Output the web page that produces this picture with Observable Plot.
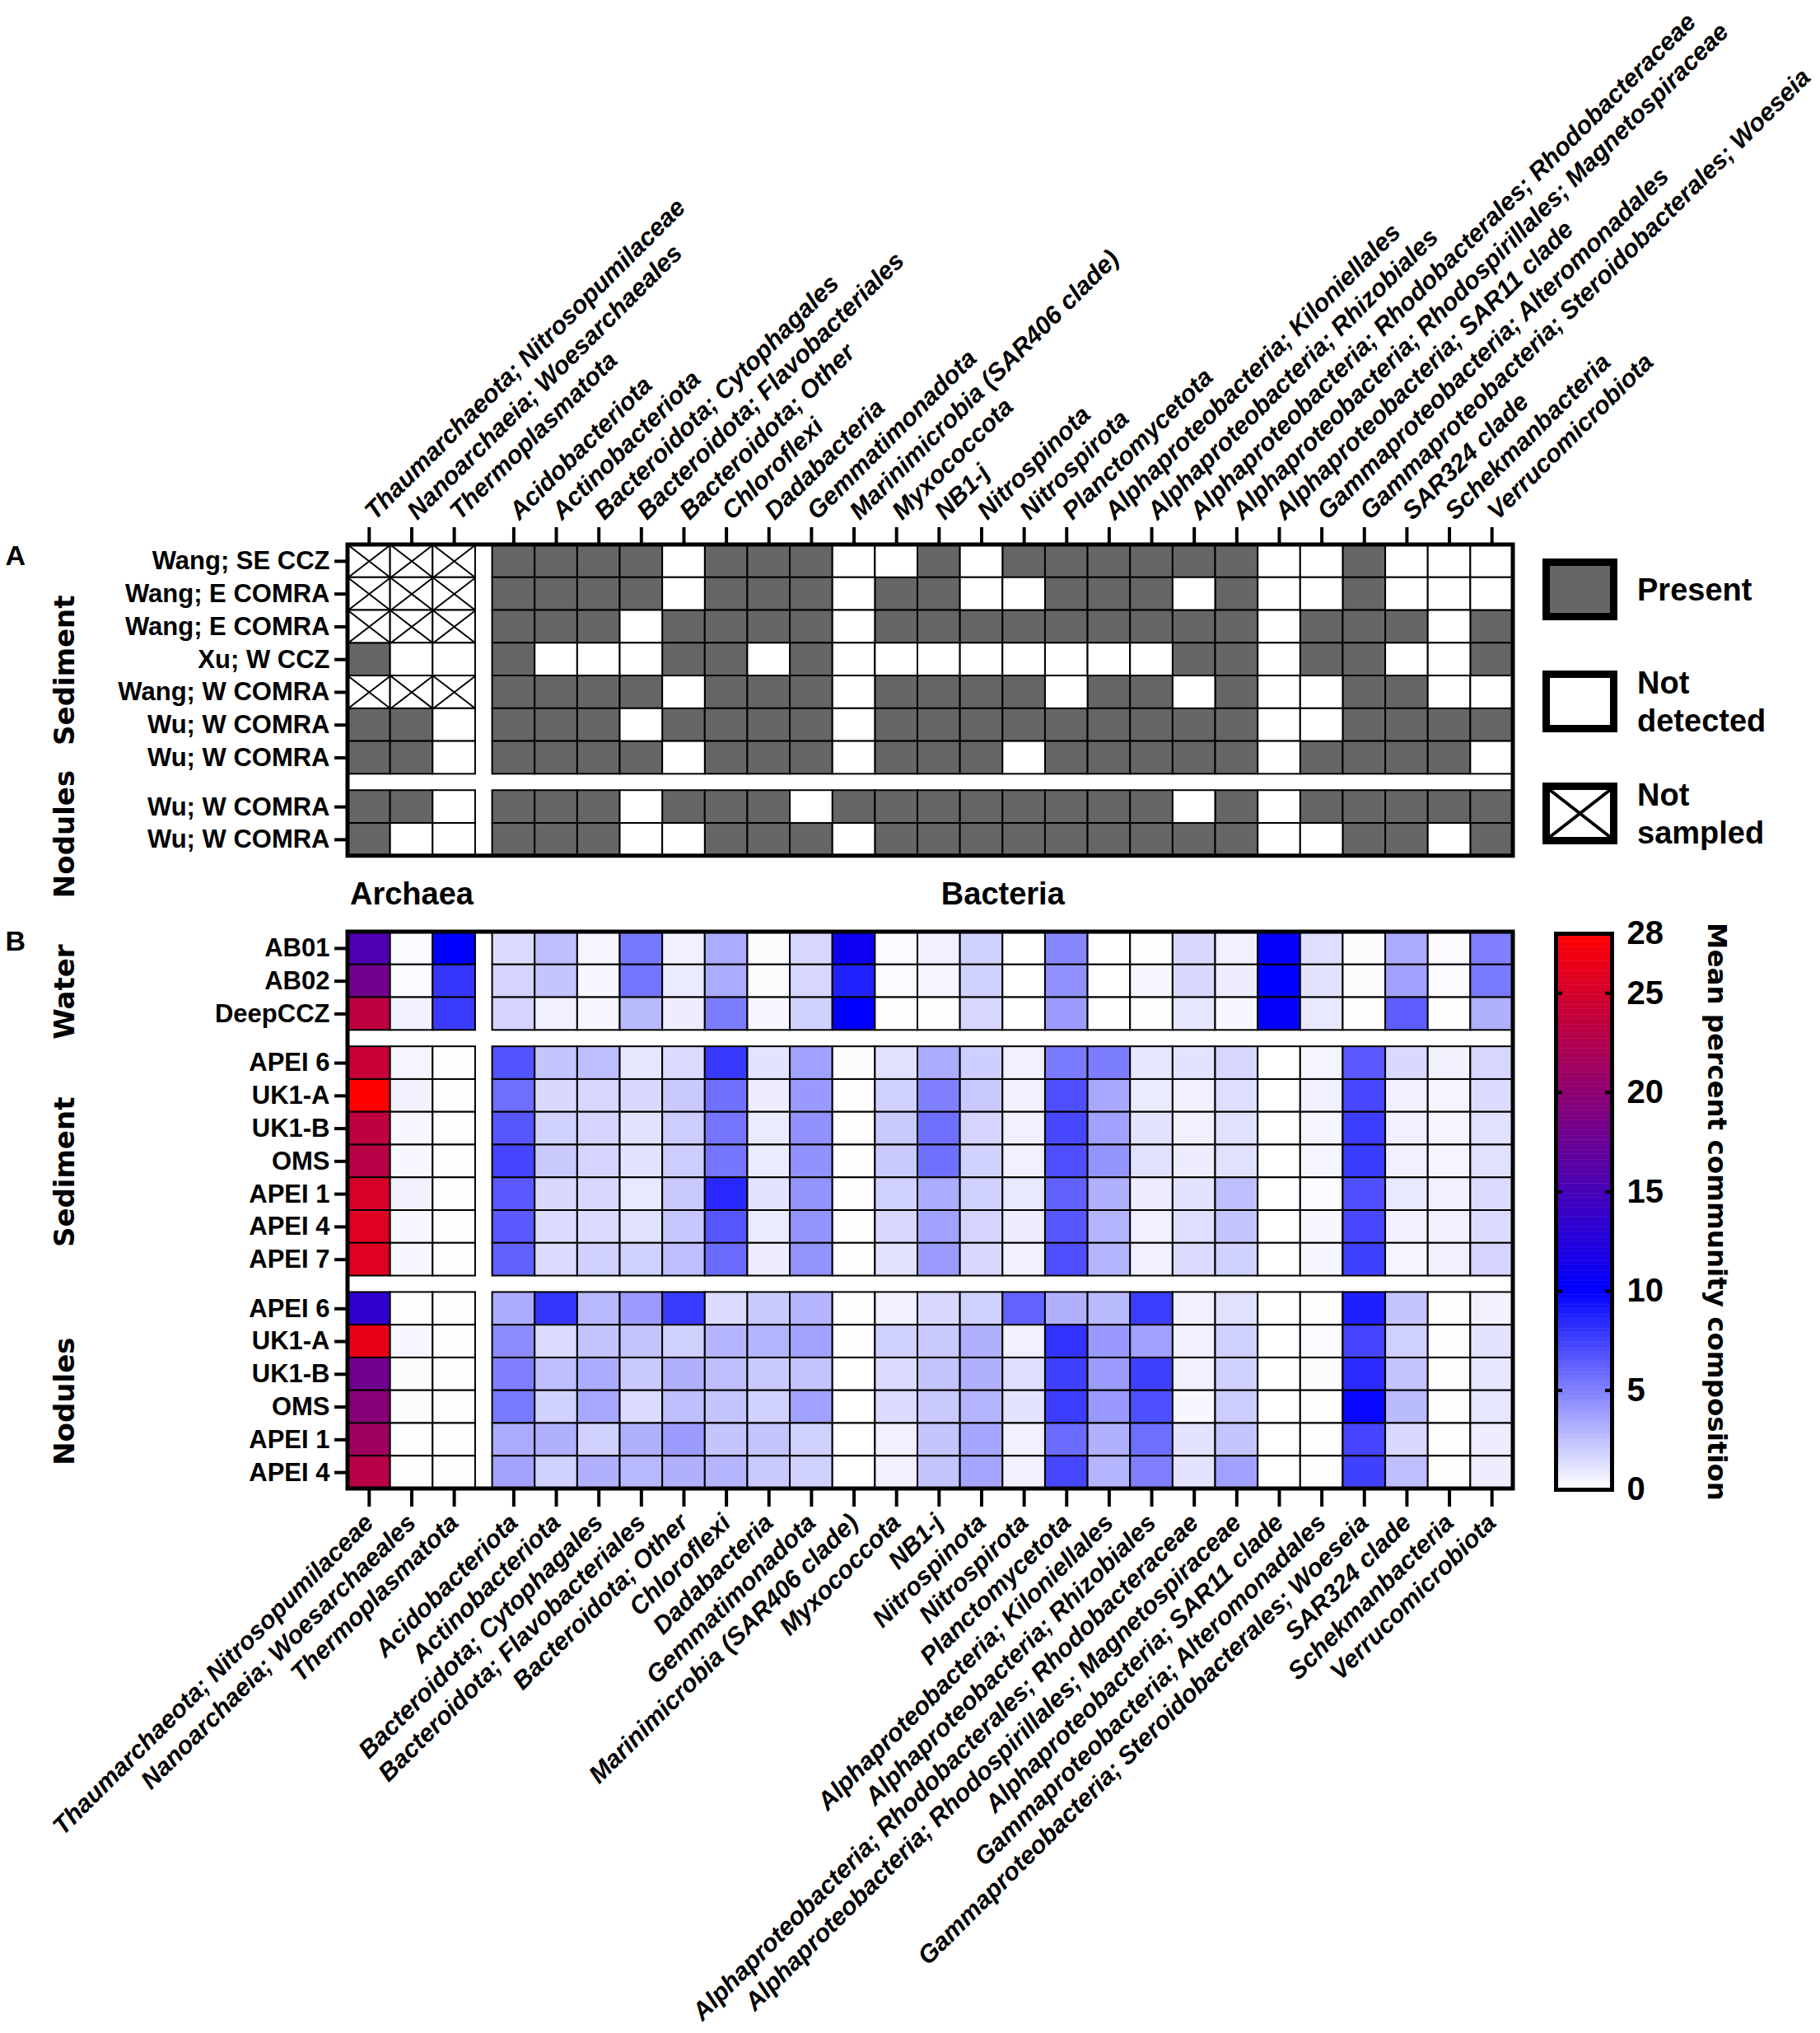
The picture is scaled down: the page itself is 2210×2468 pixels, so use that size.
<!DOCTYPE html>
<html>
<head>
<meta charset="utf-8">
<script src="https://cdn.jsdelivr.net/npm/d3@7"></script>
<script src="https://cdn.jsdelivr.net/npm/@observablehq/plot@0.6"></script>
<style>
html, body { margin: 0; padding: 0; background: #fff; overflow: hidden; }
#page { position: relative; width: 2210px; height: 2468px; background: #fff; }
#page > * { position: absolute; }
</style>
</head>
<body>
<div id="page"></div>
<script>
// ---------------- DATA ----------------
const taxa = [
  "Thaumarchaeota; Nitrosopumilaceae",
  "Nanoarchaeia; Woesarchaeales",
  "Thermoplasmatota",
  "Acidobacteriota",
  "Actinobacteriota",
  "Bacteroidota; Cytophagales",
  "Bacteroidota; Flavobacteriales",
  "Bacteroidota; Other",
  "Chloroflexi",
  "Dadabacteria",
  "Gemmatimonadota",
  "Marinimicrobia (SAR406 clade)",
  "Myxococcota",
  "NB1-j",
  "Nitrospinota",
  "Nitrospirota",
  "Planctomycetota",
  "Alphaproteobacteria; Kiloniellales",
  "Alphaproteobacteria; Rhizobiales",
  "Alphaproteobacteria; Rhodobacterales; Rhodobacteraceae",
  "Alphaproteobacteria; Rhodospirillales; Magnetospiraceae",
  "Alphaproteobacteria; SAR11 clade",
  "Gammaproteobacteria; Alteromonadales",
  "Gammaproteobacteria; Steroidobacterales; Woeseia",
  "SAR324 clade",
  "Schekmanbacteria",
  "Verrucomicrobiota"
];
const domains = [{label: "Archaea", first: 0, last: 2}, {label: "Bacteria", first: 3, last: 26}];

// Panel A: P = present, N = not detected, X = not sampled
const rowsA = ["Wang; SE CCZ", "Wang; E COMRA", "Wang; E COMRA", "Xu; W CCZ", "Wang; W COMRA",
               "Wu; W COMRA", "Wu; W COMRA", "Wu; W COMRA", "Wu; W COMRA"];
const groupA = ["Sediment", "Sediment", "Sediment", "Sediment", "Sediment", "Sediment", "Sediment",
                "Nodules", "Nodules"];
const presenceA = [
  "XXX" + "PPPPNPPPNNPNPPPPPPNNPNNN",
  "XXX" + "PPPPNPPPNPPNNPPPNPNNPNNN",
  "XXX" + "PPPNPPPPNPPPPPPPPPNPPPNP",
  "PNN" + "PNNNPPNPNNNNNNNNPPNPPNNP",
  "XXX" + "PPPPNPPPNPPPPNPPNPNNPPNN",
  "PPN" + "PPPNPPPPNPPPPPPPPPNNPPPP",
  "PPN" + "PPPPNPPPNPPPNPPPPPNPPPPN",
  "PPN" + "PPPNPPPNPPPPPPPPNPNPPPPP",
  "PNN" + "PPPNNPPPNPPPPPPPPPNNPPNP"
];
const legendA = [
  {code: "P", lines: ["Present"]},
  {code: "N", lines: ["Not", "detected"]},
  {code: "X", lines: ["Not", "sampled"]}
];

// Panel B: mean percent community composition
const rowsB = ["AB01", "AB02", "DeepCCZ",
               "APEI 6", "UK1-A", "UK1-B", "OMS", "APEI 1", "APEI 4", "APEI 7",
               "APEI 6", "UK1-A", "UK1-B", "OMS", "APEI 1", "APEI 4"];
const groupB = ["Water", "Water", "Water",
                "Sediment", "Sediment", "Sediment", "Sediment", "Sediment", "Sediment", "Sediment",
                "Nodules", "Nodules", "Nodules", "Nodules", "Nodules", "Nodules"];
const valuesB = [
  [15.5,0.2,10,   1.4,2.5,0.4,5.3,0.6,3.3,0.1,1.6,11,0.2,0.6,1.8,0,4.7,0,0.05,1.5,0.6,10.5,1.3,0.1,3.3,0.2,5],
  [18,0.2,7.9,    1.7,2.3,0.3,5.4,0.8,3.3,0.1,1.6,8.7,0.2,0.4,1.8,0,4.3,0,0.3,1.5,0.7,10,1.1,0.1,3.7,0.2,5.2],
  [23.5,0.6,7.7,  1.7,0.6,0.35,2.7,0.7,5.1,0.3,1.8,10,0.05,0.05,1.6,0,3.9,0,0.05,1,0.3,10.5,0.9,0.05,6.3,0.05,3.1],
  [24.1,0.4,0.05, 6.7,2.3,2.5,1,1.4,7.8,1.1,3.7,0.1,1.2,3.3,1.9,0.6,5.2,5.1,1,1.1,1.6,0,0.4,6.5,1.5,0.5,1.6],
  [28,0.5,0.05,   5.7,1.5,1.6,1.5,2.1,5.6,0.7,4,0.05,1.8,5,2.1,0.6,6.9,3.4,0.8,0.6,1.3,0,0.6,7.2,0.6,0.4,1.4],
  [23.5,0.3,0.05, 6.6,1.8,1.7,1.1,2,5.4,0.8,4.3,0.05,2.1,5.6,1.7,0.6,7.2,3.7,1.1,0.6,1.2,0,0.4,7.6,0.6,0.4,1.2],
  [23,0.3,0.05,   7.3,2.1,1.7,1.1,2,5.4,0.8,4.3,0.05,2.1,5.6,1.8,0.6,6.9,4.2,1.2,0.7,1.2,0,0.4,7.7,0.6,0.4,1.2],
  [25.2,0.5,0.05, 6.5,1.5,1.5,0.9,2.1,8.4,1.1,4.2,0.05,1.8,3.3,1.8,0.9,6.2,3.1,0.7,1.1,2.5,0,0.2,6.9,0.9,0.6,1.4],
  [25.8,0.3,0.05, 6.5,1.4,1.4,1.2,2.2,6.6,0.8,4.2,0.05,1.5,3.7,1.7,0.7,6.6,2.9,0.6,1.3,2.3,0,0.3,7.2,0.6,0.6,1.4],
  [25.8,0.3,0.05, 6.2,1.4,1.8,1.8,2.6,5.8,0.7,4.2,0.05,1.1,3.9,1.5,0.6,6.9,2.9,0.6,1.4,1.8,0,0.3,7.5,0.4,0.6,1.7],
  [13.4,0.05,0.05,3.3,7.9,2.8,3.9,7.7,1.4,2.1,2.9,0.05,0.6,1.5,1.8,6.1,3.1,2.7,7.6,0.6,1.2,0,0.05,8.8,2.3,0.05,0.5],
  [26.4,0.3,0.05, 4.5,1.4,2.3,2.3,1.8,2.9,2.9,3.6,0.05,1.8,2.1,3.1,0.6,8,4,3.7,0.6,1.8,0,0.2,7.3,1.8,0.05,1.1],
  [17.9,0.1,0.05, 5,2.5,3.3,2.1,3.1,2.5,2.1,2.3,0,1.4,2.3,3.1,1.3,7.5,3.9,7.5,0.6,1.8,0,0.1,8.3,2.3,0.05,1],
  [19.6,0.1,0.05, 5.2,1.8,3.4,1.4,2.5,2.3,1.8,3.7,0,1.4,2.1,2.9,1.1,7.6,4,6.9,0.3,2,0,0.05,9.7,2.7,0.05,1],
  [21.3,0.05,0.05,3.3,3.1,1.8,3.1,3.9,2.3,2.3,1.8,0,0.6,2.3,3.5,0.6,5.8,3.1,5.7,1.1,2.3,0,0.05,7.3,1.5,0.05,0.7],
  [23,0.05,0.05,  3.6,1.8,3.1,2.8,3.1,2.9,2.1,1.8,0,0.6,2.3,3.5,0.6,7.2,2.9,5,1.1,3.7,0,0.05,7.5,2.5,0.05,0.7]
];
const colorTicks = [0, 5, 10, 15, 20, 25, 28];
const colorInnerTicks = [5, 10, 15, 20, 25];
const colorTitle = "Mean percent community composition";
const panelTags = ["A", "B"];

// ---------------- LAYOUT (in cell units) ----------------
const SANS = "'Liberation Sans', Arial, Helvetica, sans-serif";
const WIDE = "'DejaVu Sans', Verdana, sans-serif";
const COL_GAP = 0.4, ROW_GAP = 0.5, PANEL_GAP = 2.32;
const colX = c => c + (c >= 3 ? COL_GAP : 0);
const xMax = colX(taxa.length - 1) + 1;
function rowStarts(groups, start) {
  const ys = []; let y = start;
  groups.forEach((g, i) => { if (i > 0 && g !== groups[i - 1]) y += ROW_GAP; ys.push(y); y += 1; });
  return {ys, end: y};
}
const A = rowStarts(groupA, 0);
const B = rowStarts(groupB, A.end + PANEL_GAP);
const yMax = B.end;

function groupSpans(groups, ys) {
  const out = [];
  groups.forEach((g, i) => {
    if (i === 0 || g !== groups[i - 1]) out.push({name: g, y0: ys[i], y1: ys[i] + 1});
    else out[out.length - 1].y1 = ys[i] + 1;
  });
  return out.map(d => ({...d, yc: (d.y0 + d.y1) / 2}));
}
const groupLabels = [...groupSpans(groupA, A.ys), ...groupSpans(groupB, B.ys)];

const cellsA = presenceA.flatMap((s, r) => s.split("").map((code, c) => ({
  code, x1: colX(c), x2: colX(c) + 1, y1: A.ys[r], y2: A.ys[r] + 1
})));
const cellsB = valuesB.flatMap((row, r) => row.map((value, c) => ({
  value, x1: colX(c), x2: colX(c) + 1, y1: B.ys[r], y2: B.ys[r] + 1
})));
const panels = [
  {x1: 0, x2: xMax, y1: 0, y2: A.end},
  {x1: 0, x2: xMax, y1: B.ys[0], y2: B.end}
];
const xCenters = taxa.map((t, c) => colX(c) + 0.5);
const xLabel = new Map(xCenters.map((x, c) => [x, taxa[c]]));
const yCenters = [...A.ys.map(y => y + 0.5), ...B.ys.map(y => y + 0.5)];
const yLabelArr = [...rowsA, ...rowsB];
const yLabel = new Map(yCenters.map((y, i) => [y, yLabelArr[i]]));
const domainLabels = domains.map(d => ({label: d.label, x: (colX(d.first) + colX(d.last) + 1) / 2, y: (A.end + B.ys[0]) / 2}));
const tagPos = [{tag: panelTags[0], y: 0.33}, {tag: panelTags[1], y: B.ys[0] + 0.3}];

const colorScale = {type: "linear", domain: [0, 10, 28], range: ["#ffffff", "#0000ff", "#ff0000"], interpolate: "rgb"};
const page = document.getElementById("page");

// ---------------- MAIN CHART ----------------
const main = Plot.plot({
  width: 2210, height: 2468,
  marginLeft: 422, marginRight: 373, marginTop: 661, marginBottom: 661,
  style: {background: "white", fontFamily: SANS, color: "black"},
  x: {domain: [0, xMax]},
  y: {domain: [0, yMax], reverse: true},
  color: colorScale,
  marks: [
    Plot.rect(cellsA.filter(d => d.code === "P"), {x1: "x1", x2: "x2", y1: "y1", y2: "y2", fill: "#666666", stroke: "black", strokeWidth: 2}),
    Plot.rect(cellsA.filter(d => d.code !== "P"), {x1: "x1", x2: "x2", y1: "y1", y2: "y2", fill: "white", stroke: "black", strokeWidth: 2}),
    Plot.link(cellsA.filter(d => d.code === "X"), {x1: "x1", y1: "y1", x2: "x2", y2: "y2", stroke: "black", strokeWidth: 2}),
    Plot.link(cellsA.filter(d => d.code === "X"), {x1: "x1", y1: "y2", x2: "x2", y2: "y1", stroke: "black", strokeWidth: 2}),
    Plot.rect(cellsB, {x1: "x1", x2: "x2", y1: "y1", y2: "y2", fill: "value", stroke: "black", strokeWidth: 2}),
    Plot.rect(panels, {x1: "x1", x2: "x2", y1: "y1", y2: "y2", fill: "none", stroke: "black", strokeWidth: 5}),
    Plot.axisX({anchor: "top", ticks: xCenters, tickFormat: x => xLabel.get(x), tickRotate: -45,
      tickSize: 22, tickPadding: 14, strokeWidth: 4, fontSize: 30.5, fontWeight: "bold", fontStyle: "italic",
      fontFamily: SANS, label: null}),
    Plot.axisX({anchor: "bottom", ticks: xCenters, tickFormat: x => xLabel.get(x), tickRotate: -45,
      tickSize: 22, tickPadding: 14, strokeWidth: 4, fontSize: 30.5, fontWeight: "bold", fontStyle: "italic",
      fontFamily: SANS, label: null}),
    Plot.axisY({anchor: "left", ticks: yCenters, tickFormat: y => yLabel.get(y), tickSize: 16, tickPadding: 6,
      strokeWidth: 4, fontSize: 31, fontWeight: "bold", fontFamily: SANS, label: null}),
    Plot.text(domainLabels, {x: "x", y: "y", text: "label", fontSize: 38, fontWeight: "bold", fontFamily: SANS}),
    Plot.text(groupLabels, {y: "yc", text: "name", frameAnchor: "left", textAnchor: "middle", dx: -343, dy: 13, rotate: -90,
      fontSize: 34, fontWeight: "bold", fontFamily: WIDE}),
    Plot.text(tagPos, {y: "y", text: "tag", frameAnchor: "left", dx: -416, textAnchor: "start",
      fontSize: 34, fontWeight: "bold", fontFamily: SANS})
  ]
});
main.style.left = "0px"; main.style.top = "0px";
page.appendChild(main);

// ---------------- LEGEND A ----------------
const leg = d3.create("svg").attr("width", 340).attr("height", 380)
  .style("left", "1868px").style("top", "670px");
legendA.forEach((d, i) => {
  const top = 8 + i * 136, boxW = 91, boxH = 75, sw = 9;
  const g = leg.append("g");
  g.append("rect").attr("x", 5 + sw / 2).attr("y", top + sw / 2)
    .attr("width", boxW - sw).attr("height", boxH - sw)
    .attr("fill", d.code === "P" ? "#666666" : "white").attr("stroke", "black").attr("stroke-width", sw);
  if (d.code === "X") {
    const x0 = 5 + sw, x1 = 5 + boxW - sw, y0 = top + sw, y1 = top + boxH - sw;
    g.append("line").attr("x1", x0).attr("y1", y0).attr("x2", x1).attr("y2", y1).attr("stroke", "black").attr("stroke-width", 4);
    g.append("line").attr("x1", x0).attr("y1", y1).attr("x2", x1).attr("y2", y0).attr("stroke", "black").attr("stroke-width", 4);
  }
  const cy = top + boxH / 2;
  d.lines.forEach((line, j) => {
    const off = d.lines.length === 1 ? 0 : (j === 0 ? -23 : 23);
    g.append("text").attr("x", 120).attr("y", cy + off + 13.5)
      .attr("font-family", SANS).attr("font-weight", "bold").attr("font-size", 38).attr("fill", "black").text(line);
  });
});
page.appendChild(leg.node());

// ---------------- COLOR BAR (panel B legend) ----------------
const stops = d3.range(0, 280).map(i => ({x1: 0, x2: 1, v0: i / 10, v1: Math.min(28, i / 10 + 0.12), vm: i / 10 + 0.05}));
const bar = Plot.plot({
  width: 360, height: 760,
  marginLeft: 39, marginRight: 253, marginTop: 33, marginBottom: 52,
  style: {background: "transparent", fontFamily: SANS, color: "black", overflow: "visible"},
  x: {domain: [0, 1], axis: null},
  y: {domain: [0, 28]},
  color: colorScale,
  marks: [
    Plot.rect(stops, {x1: "x1", x2: "x2", y1: "v0", y2: "v1", fill: "vm"}),
    Plot.frame({stroke: "black", strokeWidth: 5}),
    Plot.tickY(colorInnerTicks, {y: d => d, stroke: "black", strokeWidth: 4, insetRight: 60}),
    Plot.tickY(colorInnerTicks, {y: d => d, stroke: "black", strokeWidth: 4, insetLeft: 60}),
    Plot.axisY({anchor: "right", ticks: colorTicks, tickSize: 0, tickPadding: 18, fontSize: 40,
      fontWeight: "bold", fontFamily: SANS, label: null}),
    Plot.text([{t: colorTitle, v: 14}], {y: "v", text: "t", frameAnchor: "right", textAnchor: "middle", dx: 127, rotate: 90,
      fontSize: 32.5, fontWeight: "bold", fontFamily: WIDE})
  ]
});
bar.style.left = "1850px"; bar.style.top = "1100px";
page.appendChild(bar);
</script>
</body>
</html>
